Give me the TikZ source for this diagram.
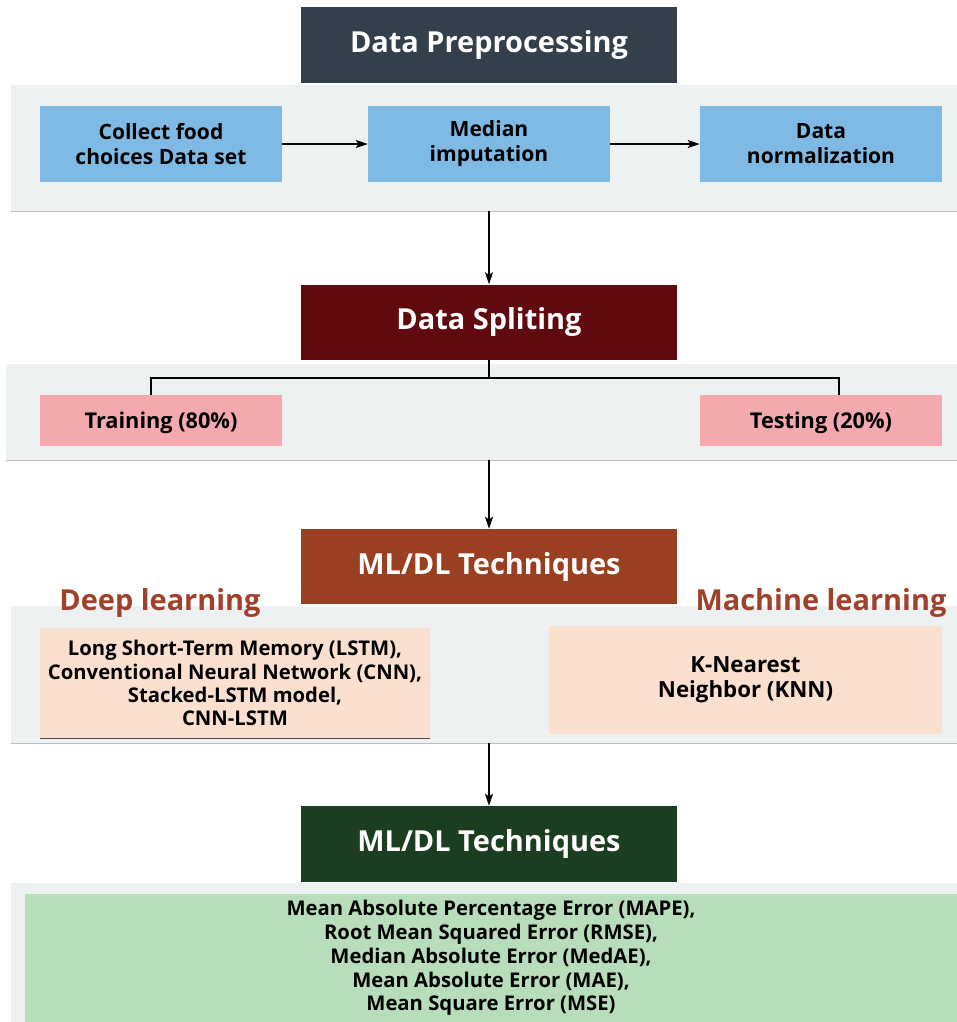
\documentclass[tikz,border=0pt]{standalone}
\usepackage{fontspec}
\setmainfont{Open Sans}[BoldFont={Open Sans Bold}]
\usetikzlibrary{arrows.meta}
\definecolor{cTitleA}{HTML}{333F4B}
\definecolor{cPanel}{HTML}{EEF1F2}
\definecolor{cPanelLine}{HTML}{BEBEBE}
\definecolor{cBlue}{HTML}{7EBAE4}
\definecolor{cTitleB}{HTML}{600A10}
\definecolor{cPink}{HTML}{F4A9AE}
\definecolor{cTitleC}{HTML}{9A3F22}
\definecolor{cLabel}{HTML}{A0412B}
\definecolor{cPeach}{HTML}{FBE0D0}
\definecolor{cTitleD}{HTML}{1B3D20}
\definecolor{cGreen}{HTML}{B8DDBA}
\tikzset{
  x=0.75pt, y=-0.75pt,
  titlebox/.style={draw=none, minimum width=282pt, minimum height=57pt, text=white, font=\bfseries\fontsize{21.7}{26}\selectfont, inner sep=0pt},
  panel/.style={fill=cPanel, draw=none, inner sep=0pt},
  bluebox/.style={fill=cBlue, minimum width=181.5pt, minimum height=57pt, align=center, font=\bfseries\fontsize{15.8}{18.75}\selectfont, inner sep=0pt},
  pinkbox/.style={fill=cPink, minimum width=181.5pt, minimum height=38.25pt, font=\bfseries\fontsize{16.3}{19}\selectfont, inner sep=0pt, text depth=0pt},
  peachbox/.style={fill=cPeach, align=center, font=\bfseries\fontsize{15.2}{17.4}\selectfont, inner sep=0pt},
  grouplabel/.style={text=cLabel, font=\bfseries\fontsize{21.7}{25}\selectfont, inner sep=0pt},
  arr/.style={draw=black, line width=0.8pt, -{Stealth[length=9pt,width=6pt,inset=2pt]}},
  link/.style={draw=black, line width=0.8pt},
}
\begin{document}
\begin{tikzpicture}
\useasboundingbox (0,0) rectangle (957,1022);
% ---------- stage 1
\node[titlebox, fill=cTitleA] (t1) at (489,45) {Data Preprocessing};
\node[panel, minimum width=709.5pt, minimum height=94.5pt] (p1) at (484,148) {};
\draw[cPanelLine, line width=0.8pt] (p1.south west) -- (p1.south east);
\node[bluebox] (b1) at (161,144) {Collect food\\choices Data set};
\node[bluebox] (b2) at (489,144) {Median\\imputation};
\node[bluebox] (b3) at (821,144) {Data\\normalization};
\draw[arr] (b1) -- (b2);
\draw[arr] (b2) -- (b3);
% ---------- stage 2
\node[titlebox, fill=cTitleB, minimum height=56.25pt] (t2) at (489,322) {Data Spliting};
\draw[arr] (p1.south -| t2.north) -- (t2.north);
\node[panel, minimum width=713.25pt, minimum height=72pt] (p2) at (481.5,412) {};
\draw[cPanelLine, line width=0.8pt] (p2.south west) -- (p2.south east);
\node[pinkbox] (tr) at (161,420.5) {Training (80\%)};
\node[pinkbox] (te) at (821,420.5) {Testing (20\%)};
\coordinate (bj) at (t2.south |- 0,378);
\draw[link] (t2.south) -- (bj);
\draw[link] ([xshift=-7.5pt]tr.north) |- (bj) -| ([xshift=13.5pt]te.north);
% ---------- stage 3
\node[titlebox, fill=cTitleC, minimum height=56.25pt] (t3) at (489,566.5) {ML/DL Techniques};
\draw[arr] (p2.south -| t3.north) -- (t3.north);
\node[panel, minimum width=709.5pt, minimum height=102.75pt] (p3) at (484,674.5) {};
\draw[cPanelLine, line width=0.8pt] (p3.south west) -- (p3.south east);
\node[grouplabel] (dl) at (160,603) {Deep learning};
\node[grouplabel] (ml) at (821,603) {Machine learning};
\node[peachbox, minimum width=292.5pt, minimum height=82.5pt] (dlb) at (235,683)
  {Long Short-Term Memory (LSTM),\\Conventional Neural Network (CNN),\\Stacked-LSTM model,\\CNN-LSTM};
\draw[black!70, line width=0.8pt] (dlb.south west) -- (dlb.south east);
\node[peachbox, minimum width=294.75pt, minimum height=81pt, font=\bfseries\fontsize{16.7}{18.75}\selectfont] (mlb) at (745.5,680)
  {K-Nearest\\Neighbor (KNN)};
% ---------- stage 4
\node[titlebox, fill=cTitleD] (t4) at (489,844) {ML/DL Techniques};
\draw[arr] (p3.south -| t4.north) -- (t4.north);
\node[panel, minimum width=709.5pt, minimum height=104.25pt] (p4) at (484,952.5) {};
\node[fill=cGreen, minimum width=699pt, minimum height=96pt, align=center, inner sep=0pt,
  font=\bfseries\fontsize{15.2}{17.8}\selectfont] (gb) at (491,958)
  {Mean Absolute Percentage Error (MAPE),\\Root Mean Squared Error (RMSE),\\Median Absolute Error (MedAE),\\Mean Absolute Error (MAE),\\Mean Square Error (MSE)};
\end{tikzpicture}
\end{document}
